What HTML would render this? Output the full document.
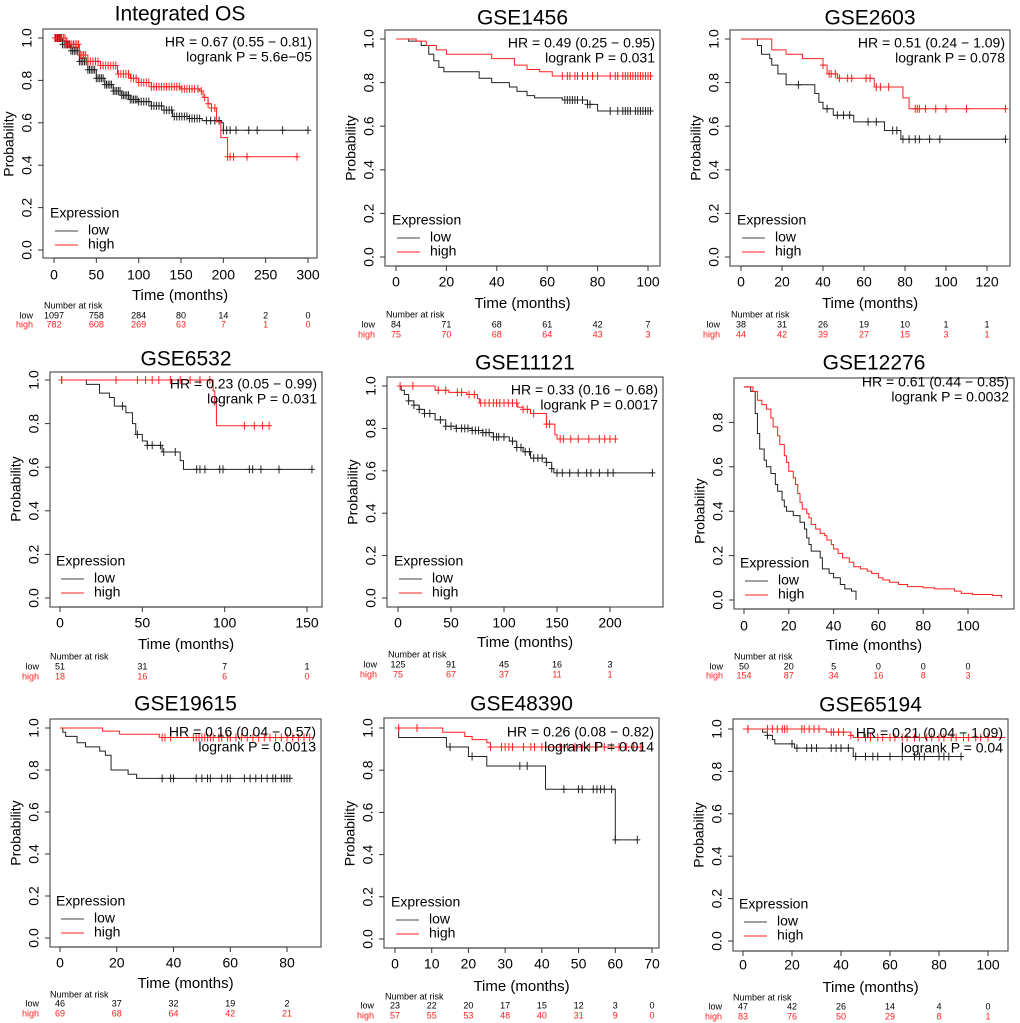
<!DOCTYPE html>
<html><head><meta charset="utf-8"><style>
html,body{margin:0;padding:0;background:#fff}
svg{display:block;font-family:"Liberation Sans",Arial,sans-serif}
</style></head><body>
<svg id="fig" width="1020" height="1023" viewBox="0 0 1020 1023" xmlns="http://www.w3.org/2000/svg"></svg>
<script>
// ---------- data (time in months, survival probability) ----------
const os_low=[[0,1],[10,.97],[20,.94],[30,.89],[40,.85],[50,.81],[60,.78],[70,.75],[80,.73],[90,.71],[100,.70],[115,.68],[130,.66],[140,.63],[160,.62],[175,.61],[198,.60],[200,.565],[300,.565]];
const os_high=[[0,1],[15,.97],[30,.92],[40,.89],[55,.87],[75,.83],[90,.81],[100,.79],[115,.77],[150,.76],[172,.75],[176,.72],[182,.69],[186,.67],[192,.605],[197,.53],[205,.44],[287,.44]];
const os_low_c=[2,4,6,8,10,12,14,16,18,20,22,24,26,28,30,32,34,36,38,40,42,44,46,48,50,52,54,56,58,60,62,64,66,68,70,72,74,76,78,80,82,84,86,88,90,92,94,96,98,100,103,106,109,112,115,118,121,124,127,130,133,136,139,142,145,148,151,154,157,160,163,166,169,172,180,185,190,195,200,204,208,215,230,240,270,300];
const os_high_c=[1,3,5,7,9,11,13,15,17,19,21,23,25,27,29,31,33,35,37,40,43,46,49,52,55,58,61,64,67,70,73,76,79,82,85,88,91,94,97,100,103,106,109,112,115,118,121,124,127,130,133,136,139,142,145,148,151,154,157,160,163,166,170,174,178,182,186,190,205,208,212,228,287];
const os_risk_t=[0,50,100,150,200,250,300];
const os_risk_low=[1097,758,284,80,14,2,0];
const os_risk_high=[782,608,269,63,7,1,0];

const g1456_low=[[0,1],[5,.99],[10,.97],[13,.93],[15,.90],[17,.87],[19,.85],[33,.82],[38,.80],[45,.78],[48,.76],[52,.74],[55,.73],[66,.72],[76,.70],[80,.67],[101,.67]];
const g1456_high=[[0,1],[8,.99],[12,.97],[16,.95],[20,.93],[38,.91],[47,.88],[52,.86],[57,.85],[62,.83],[102,.83]];
const g1456_low_c=[67,68,69,70,71,72,74,76,77,85,88,90,91,92,93,95,96,97,98,99,100,101];
const g1456_high_c=[66,68,69,71,72,74,76,78,80,85,87,88,90,91,92,93,94,95,96,97,98,99,100,101];
const g1456_risk_t=[0,20,40,60,80,100];
const g1456_risk_low=[84,71,68,61,42,7];
const g1456_risk_high=[75,70,68,64,43,3];

const g2603_low=[[0,1],[8,.97],[10,.93],[14,.91],[15,.88],[18,.84],[22,.79],[36,.75],[38,.71],[40,.68],[45,.65],[55,.62],[70,.58],[78,.54],[129,.54]];
const g2603_high=[[0,1],[15,.95],[22,.93],[30,.91],[40,.88],[42,.84],[47,.82],[65,.78],[79,.73],[82,.68],[129,.68]];
const g2603_low_c=[28,42,47,50,53,62,66,74,76,79,82,85,87,92,97,129];
const g2603_high_c=[40,43,44,46,48,52,54,61,63,66,68,72,85,86,87,90,95,100,110,129];
const g2603_risk_t=[0,20,40,60,80,100,120];
const g2603_risk_low=[38,31,26,19,10,1,1];
const g2603_risk_high=[44,42,39,27,15,3,1];

const g6532_low=[[0,1],[16,.98],[24,.94],[30,.92],[33,.88],[40,.85],[44,.80],[46,.75],[50,.72],[53,.70],[62,.67],[73,.63],[75,.59],[153,.59]];
const g6532_high=[[0,1],[93,.95],[94,.90],[95,.79],[127,.79]];
const g6532_low_c=[1,38,47,53,56,61,63,70,83,85,88,97,99,115,117,122,133,153];
const g6532_high_c=[1,34,47,52,56,60,67,73,79,85,91,94,112,118,123,127];
const g6532_risk_t=[0,50,100,150];
const g6532_risk_low=[51,31,7,1];
const g6532_risk_high=[18,16,6,0];

const g11121_low=[[0,1],[3,.98],[6,.96],[10,.93],[15,.91],[20,.89],[25,.87],[35,.84],[45,.81],[55,.80],[70,.79],[80,.78],[90,.76],[105,.74],[112,.71],[118,.69],[125,.66],[140,.64],[145,.61],[147,.59],[240,.59]];
const g11121_high=[[0,1],[35,.98],[48,.97],[65,.96],[75,.94],[77,.92],[113,.90],[118,.89],[125,.87],[140,.82],[148,.77],[150,.75],[205,.75]];
const g11121_low_c=[10,15,20,25,30,40,45,50,55,60,63,66,70,73,76,80,83,86,90,93,95,100,108,112,116,120,124,128,132,136,140,145,150,155,162,170,178,182,190,198,203,240];
const g11121_high_c=[2,14,38,45,56,60,67,72,78,82,86,90,93,96,100,104,108,112,118,122,128,140,143,153,156,163,170,180,190,195,200,205];
const g11121_risk_t=[0,50,100,150,200];
const g11121_risk_low=[125,91,45,16,3];
const g11121_risk_high=[75,67,37,11,1];

const g12276_low=[[0,.96],[3,.94],[5,.84],[6,.75],[7,.68],[9,.63],[10,.60],[12,.57],[14,.52],[15,.49],[17,.45],[18,.42],[19,.40],[22,.38],[25,.35],[27,.32],[28,.28],[29,.25],[30,.22],[34,.19],[35,.14],[38,.12],[40,.10],[43,.07],[45,.05],[48,.04],[50,0]];
const g12276_high=[[0,.96],[4,.94],[6,.90],[8,.88],[10,.86],[12,.82],[13,.78],[15,.74],[16,.70],[18,.65],[19,.62],[20,.58],[22,.55],[23,.52],[24,.48],[25,.44],[26,.41],[28,.39],[29,.37],[30,.34],[32,.32],[34,.30],[36,.29],[37,.27],[39,.25],[40,.23],[42,.21],[44,.19],[47,.17],[49,.15],[52,.14],[55,.13],[57,.12],[60,.10],[62,.09],[65,.08],[69,.07],[73,.06],[80,.055],[85,.05],[94,.04],[97,.03],[102,.025],[111,.02],[115,.01]];
const g12276_risk_t=[0,20,40,60,80,100];
const g12276_risk_low=[50,20,5,0,0,0];
const g12276_risk_high=[154,87,34,16,8,3];

const g19615_low=[[0,1],[1,.98],[2,.96],[6,.93],[9,.91],[14,.89],[16,.87],[18,.80],[24,.78],[27,.76],[81,.76]];
const g19615_high=[[0,1],[15,.985],[21,.97],[35,.955],[88,.955]];
const g19615_low_c=[36,39,40,48,50,52,53,57,59,60,65,67,69,71,73,75,76,78,79,80,81];
const g19615_high_c=[36,37,39,47,48,49,50,51,52,53,54,56,57,59,60,62,64,66,68,70,72,74,76,78,80,82,84,86,88];
const g19615_risk_t=[0,20,40,60,80];
const g19615_risk_low=[46,37,32,19,2];
const g19615_risk_high=[69,68,64,42,21];

const g48390_low=[[0,1],[1,.955],[14,.91],[20,.865],[25,.82],[41,.71],[60,.47],[66,.47]];
const g48390_high=[[0,1],[13,.98],[19,.96],[21,.945],[25,.93],[26,.91],[67,.91]];
const g48390_low_c=[15,21,34,36,46,50,51,54,55,56,57,59,60,66];
const g48390_high_c=[1,6,26,29,30,31,32,35,37,38,40,45,47,49,51,53,55,57,59,61,63,65,67];
const g48390_risk_t=[0,10,20,30,40,50,60,70];
const g48390_risk_low=[23,22,20,17,15,12,3,0];
const g48390_risk_high=[57,55,53,48,40,31,9,0];

const g65194_low=[[0,1],[8,.985],[10,.97],[12,.95],[13,.93],[21,.91],[45,.87],[89,.87]];
const g65194_high=[[0,1],[34,.985],[44,.97],[45,.96],[107,.96]];
const g65194_low_c=[2,10,20,22,26,28,30,36,38,40,43,46,50,53,55,60,65,70,72,74,80,82,84,89];
const g65194_high_c=[2,10,12,14,16,17,18,24,25,27,29,31,36,37,39,41,44,47,50,52,55,57,60,62,65,67,70,72,75,77,80,82,85,87,90,92,95,97,100];
const g65194_risk_t=[0,20,40,60,80,100];
const g65194_risk_low=[47,42,26,14,4,0];
const g65194_risk_high=[83,76,50,29,8,1];

// ---------- panels (layout) ----------
const panels=[
 {id:'integrated-os',title:'Integrated OS',hr:'HR = 0.67 (0.55 − 0.81)',p:'logrank P = 5.6e−05',box:[43,29,317,258],xr:[54,308],xmax:300,xticks:[0,50,100,150,200,250,300],yr:[250,38],yticks:[0,.2,.4,.6,.8,1],titleY:15,tickY:276,labY:296,narY:306,lowY:316,highY:325,
  low:os_low,high:os_high,lowC:os_low_c,highC:os_high_c,rt:os_risk_t,rl:os_risk_low,rh:os_risk_high},
 {id:'gse1456',title:'GSE1456',hr:'HR = 0.49 (0.25 − 0.95)',p:'logrank P = 0.031',box:[385,30,660,266],xr:[396,648],xmax:100,xticks:[0,20,40,60,80,100],yr:[257,39],yticks:[0,.2,.4,.6,.8,1],titleY:19,tickY:283,labY:304,narY:315,lowY:325,highY:335,
  low:g1456_low,high:g1456_high,lowC:g1456_low_c,highC:g1456_high_c,rt:g1456_risk_t,rl:g1456_risk_low,rh:g1456_risk_high},
 {id:'gse2603',title:'GSE2603',hr:'HR = 0.51 (0.24 − 1.09)',p:'logrank P = 0.078',box:[730,30,1010,266],xr:[741,987],xmax:120,xticks:[0,20,40,60,80,100,120],yr:[257,39],yticks:[0,.2,.4,.6,.8,1],titleY:19,tickY:283,labY:304,narY:315,lowY:325,highY:335,
  low:g2603_low,high:g2603_high,lowC:g2603_low_c,highC:g2603_high_c,rt:g2603_risk_t,rl:g2603_risk_low,rh:g2603_risk_high},
 {id:'gse6532',title:'GSE6532',hr:'HR = 0.23 (0.05 − 0.99)',p:'logrank P = 0.031',box:[50,372,322,607],xr:[60,307],xmax:150,xticks:[0,50,100,150],yr:[598,380],yticks:[0,.2,.4,.6,.8,1],titleY:360,tickY:624,labY:645,narY:657,lowY:667,highY:677,
  low:g6532_low,high:g6532_high,lowC:g6532_low_c,highC:g6532_high_c,rt:g6532_risk_t,rl:g6532_risk_low,rh:g6532_risk_high},
 {id:'gse11121',title:'GSE11121',hr:'HR = 0.33 (0.16 − 0.68)',p:'logrank P = 0.0017',box:[387,377,663,607],xr:[398,610],xmax:200,xticks:[0,50,100,150,200],yr:[598,386],yticks:[0,.2,.4,.6,.8,1],titleY:364,tickY:624,labY:643,narY:655,lowY:665,highY:675,
  low:g11121_low,high:g11121_high,lowC:g11121_low_c,highC:g11121_high_c,rt:g11121_risk_t,rl:g11121_risk_low,rh:g11121_risk_high},
 {id:'gse12276',title:'GSE12276',hr:'HR = 0.61 (0.44 − 0.85)',p:'logrank P = 0.0032',box:[734,378,1014,609],xr:[744,968],xmax:100,xticks:[0,20,40,60,80,100],yr:[600,378],yticks:[0,.2,.4,.6,.8],titleY:364,tickY:627,labY:646,narY:657,lowY:667,highY:676,
  low:g12276_low,high:g12276_high,lowC:[],highC:[],rt:g12276_risk_t,rl:g12276_risk_low,rh:g12276_risk_high},
 {id:'gse19615',title:'GSE19615',hr:'HR = 0.16 (0.04 − 0.57)',p:'logrank P = 0.0013',box:[50,719,321,947],xr:[60,287],xmax:80,xticks:[0,20,40,60,80],yr:[938,728],yticks:[0,.2,.4,.6,.8,1],titleY:705,tickY:964,labY:984,narY:995,lowY:1004,highY:1014,
  low:g19615_low,high:g19615_high,lowC:g19615_low_c,highC:g19615_high_c,rt:g19615_risk_t,rl:g19615_risk_low,rh:g19615_risk_high},
 {id:'gse48390',title:'GSE48390',hr:'HR = 0.26 (0.08 − 0.82)',p:'logrank P = 0.014',box:[384,718,659,948],xr:[395,652],xmax:70,xticks:[0,10,20,30,40,50,60,70],yr:[939,728],yticks:[0,.2,.4,.6,.8,1],titleY:705,tickY:965,labY:987,narY:997,lowY:1006,highY:1016,
  low:g48390_low,high:g48390_high,lowC:g48390_low_c,highC:g48390_high_c,rt:g48390_risk_t,rl:g48390_risk_low,rh:g48390_risk_high},
 {id:'gse65194',title:'GSE65194',hr:'HR = 0.21 (0.04 − 1.09)',p:'logrank P = 0.04',box:[733,719,1008,951],xr:[743,988],xmax:100,xticks:[0,20,40,60,80,100],yr:[941,729],yticks:[0,.2,.4,.6,.8,1],titleY:706,tickY:966,labY:988,narY:998,lowY:1007,highY:1017,
  low:g65194_low,high:g65194_high,lowC:g65194_low_c,highC:g65194_high_c,rt:g65194_risk_t,rl:g65194_risk_low,rh:g65194_risk_high}
];

const NS='http://www.w3.org/2000/svg';
const svg=document.getElementById('fig');
function mk(tag,attrs,parent,txt){const e=document.createElementNS(NS,tag);for(const k in attrs)e.setAttribute(k,attrs[k]);if(txt!==undefined)e.textContent=txt;parent.appendChild(e);return e;}
const RED='#ff2020';

panels.forEach(P=>{
  const g=mk('g',{},svg);
  
  
  const sx=t=>P.xr[0]+(P.xr[1]-P.xr[0])*t/P.xmax;
  const sy=v=>P.yr[0]+(P.yr[1]-P.yr[0])*v;
  const [L,T,R,B]=P.box;
  const cx=(L+R)/2;
  const title=mk('text',{x:cx,y:P.titleY,'text-anchor':'middle','font-size':21,'dominant-baseline':'middle'},g,P.title);
  
  
  const frame=mk('rect',{x:L,y:T,width:R-L,height:B-T,fill:'none',stroke:'#555','stroke-width':1.2},g);
  
  
  P.xticks.forEach(t=>{
    mk('line',{x1:sx(t),x2:sx(t),y1:B,y2:B+5,stroke:'#333'},g);
    const tl=mk('text',{x:sx(t),y:P.tickY,'text-anchor':'middle','font-size':14,'dominant-baseline':'middle'},g,String(t));
    
    
  });
  mk('line',{x1:sx(P.xticks[0]),x2:sx(P.xticks[P.xticks.length-1]),y1:B,y2:B,stroke:'#333'},g);
  P.yticks.forEach(v=>{
    mk('line',{x1:L,x2:L-5,y1:sy(v),y2:sy(v),stroke:'#333'},g);
    const tx=L-15;
    const yl=mk('text',{x:tx,y:sy(v),'text-anchor':'middle','font-size':14,'dominant-baseline':'middle',transform:`rotate(-90 ${tx} ${sy(v)})`},g,v.toFixed(1));
    
    
  });
  const ymid=(sy(0)+sy(P.yticks[P.yticks.length-1]))/2;
  const yt=mk('text',{x:L-33,y:ymid,'text-anchor':'middle','font-size':14,'dominant-baseline':'middle',transform:`rotate(-90 ${L-33} ${ymid})`},g,'Probability');
  
  
  const xt=mk('text',{x:cx,y:P.labY,'text-anchor':'middle','font-size':15,'dominant-baseline':'middle'},g,'Time (months)');
  
  
  function curve(steps,cens,color,name){
    let d='M'+sx(steps[0][0])+','+sy(steps[0][1]);
    for(let i=1;i<steps.length;i++){d+=' H'+sx(steps[i][0])+' V'+sy(steps[i][1]);}
    const p=mk('path',{d:d,fill:'none',stroke:color,'stroke-width':1},g);
    
    
    const val=t=>{let v=steps[0][1];for(const s of steps){if(s[0]<=t)v=s[1];}return v;};
    let cd='';
    cens.forEach(t=>{const x=sx(t),y=sy(val(t));cd+=`M${x},${y-4}V${y+4}M${x-3},${y}H${x+3}`;});
    if(cd){const c=mk('path',{d:cd,stroke:color,'stroke-width':1,fill:'none'},g);
      
      }
  }
  curve(P.low,P.lowC,'#222','low');
  curve(P.high,P.highC,RED,'high');
  const hr=mk('text',{x:R-5,y:sy(1)+5,'text-anchor':'end','font-size':14,'dominant-baseline':'middle'},g,P.hr);
  
  
  const pv=mk('text',{x:R-5,y:sy(1)+20,'text-anchor':'end','font-size':14,'dominant-baseline':'middle'},g,P.p);
  
  
  const x0=sx(0),y0=sy(0);
  const lg=mk('g',{},g);
  
  
  mk('text',{x:x0-4,y:y0-36,'font-size':14,'dominant-baseline':'middle'},lg,'Expression');
  mk('line',{x1:x0+1,x2:x0+24,y1:y0-19,y2:y0-19,stroke:'#444'},lg);
  mk('text',{x:x0+34,y:y0-19,'font-size':14,'dominant-baseline':'middle'},lg,'low');
  mk('line',{x1:x0+1,x2:x0+24,y1:y0-5,y2:y0-5,stroke:RED},lg);
  mk('text',{x:x0+34,y:y0-5,'font-size':14,'dominant-baseline':'middle'},lg,'high');
  const rg=mk('g',{'font-size':9},g);
  
  
  mk('text',{x:x0-10,y:P.narY,'dominant-baseline':'middle'},rg,'Number at risk');
  mk('text',{x:x0-21,y:P.lowY,'text-anchor':'end','dominant-baseline':'middle'},rg,'low');
  mk('text',{x:x0-21,y:P.highY,'text-anchor':'end','dominant-baseline':'middle',fill:RED},rg,'high');
  P.rt.forEach((t,i)=>{
    mk('text',{x:sx(t),y:P.lowY,'text-anchor':'middle','dominant-baseline':'middle'},rg,String(P.rl[i]));
    mk('text',{x:sx(t),y:P.highY,'text-anchor':'middle','dominant-baseline':'middle',fill:RED},rg,String(P.rh[i]));
  });
});
</script>
</body></html>
